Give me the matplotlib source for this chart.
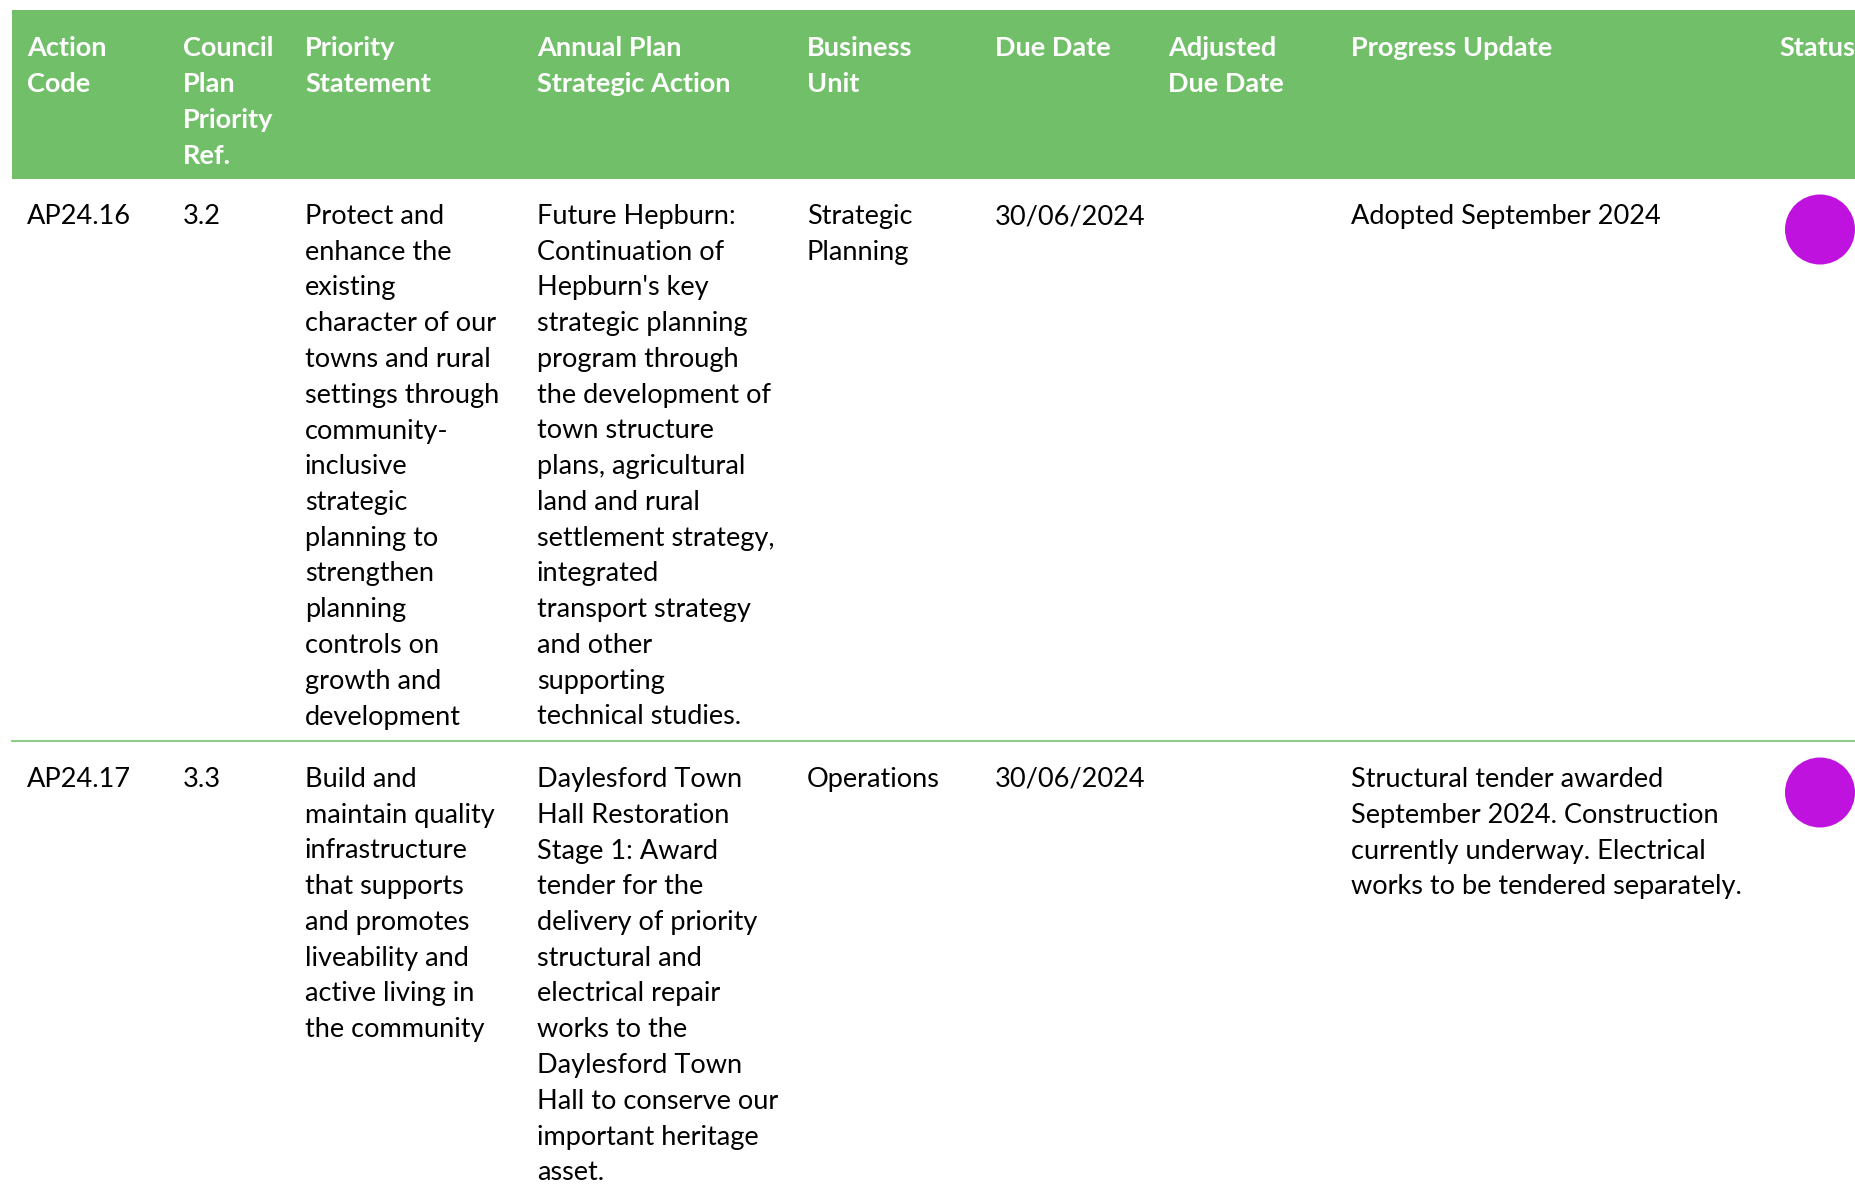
import matplotlib.pyplot as plt
from matplotlib.patches import Rectangle, Ellipse

plt.rcParams['font.family'] = ['Lato', 'DejaVu Sans']

# header labels, already wrapped as in the source table
headers = [
    ["Action", "Code"],
    ["Council", "Plan", "Priority", "Ref."],
    ["Priority", "Statement"],
    ["Annual Plan", "Strategic Action"],
    ["Business", "Unit"],
    ["Due Date"],
    ["Adjusted", "Due Date"],
    ["Progress Update"],
    ["Status"],
]

row_ap2416 = [
    ["AP24.16"],
    ["3.2"],
    ["Protect and", "enhance the", "existing", "character of our", "towns and rural",
     "settings through", "community-", "inclusive", "strategic", "planning to",
     "strengthen", "planning", "controls on", "growth and", "development"],
    ["Future Hepburn:", "Continuation of", "Hepburn's key", "strategic planning",
     "program through", "the development of", "town structure", "plans, agricultural",
     "land and rural", "settlement strategy,", "integrated", "transport strategy",
     "and other", "supporting", "technical studies."],
    ["Strategic", "Planning"],
    ["30/06/2024"],
    [],
    ["Adopted September 2024"],
    [],
]

row_ap2417 = [
    ["AP24.17"],
    ["3.3"],
    ["Build and", "maintain quality", "infrastructure", "that supports",
     "and promotes", "liveability and", "active living in", "the community"],
    ["Daylesford Town", "Hall Restoration", "Stage 1: Award", "tender for the",
     "delivery of priority", "structural and", "electrical repair", "works to the",
     "Daylesford Town", "Hall to conserve our", "important heritage", "asset."],
    ["Operations"],
    ["30/06/2024"],
    [],
    ["Structural tender awarded", "September 2024. Construction",
     "currently underway. Electrical", "works to be tendered separately."],
    [],
]

rows = [row_ap2416, row_ap2417]
status_colors = ["#BF12DE", "#BF12DE"]

# layout (pixels)
W, H = 1856, 1190
col_x = [27, 183, 305, 537, 807, 995, 1168, 1351, 1779]
header_top, header_bot = 10, 179
header_first = 48.5
row_first = [216.5, 779.5]
line_gap = 35.75
sep_y = 741
status_cx = 1820
font_size = 19.5

fig = plt.figure(figsize=(W / 100, H / 100), dpi=100)
ax = fig.add_axes([0, 0, 1, 1])
ax.set_xlim(0, W)
ax.set_ylim(H, 0)
ax.axis('off')

ax.add_patch(Rectangle((12, header_top), W - 12, header_bot - header_top,
                       facecolor="#72BF6A", edgecolor="none"))
ax.plot([12, W], [sep_y, sep_y], color="#8FCC88", lw=1.5)

for x, lines in zip(col_x, headers):
    for k, line in enumerate(lines):
        ax.text(x, header_first + k * line_gap, line, color="white",
                fontsize=font_size, fontweight='bold', va='center', ha='left')

for r, row in enumerate(rows):
    for x, lines in zip(col_x, row):
        for k, line in enumerate(lines):
            ax.text(x, row_first[r] + k * line_gap, line, color="black",
                    fontsize=font_size, va='center', ha='left')
    ax.add_patch(Ellipse((status_cx, row_first[r] + 13), 70, 70,
                         facecolor=status_colors[r], edgecolor="none"))

fig.savefig("out.png", dpi=100)
